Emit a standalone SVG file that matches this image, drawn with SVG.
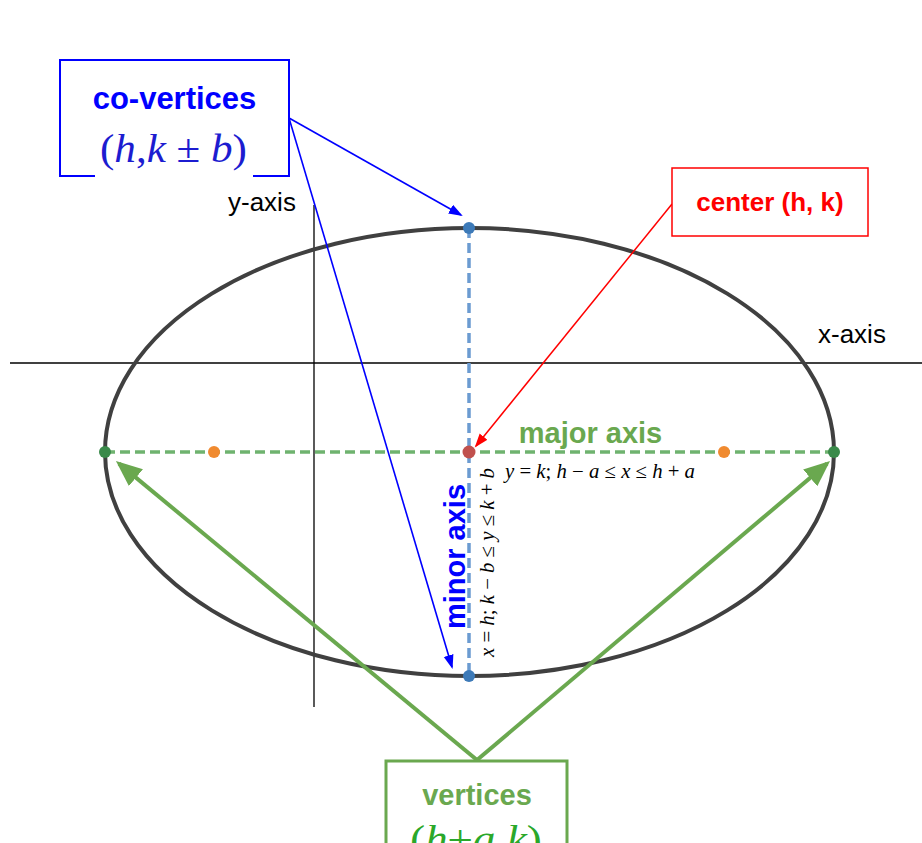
<svg xmlns="http://www.w3.org/2000/svg" width="922" height="843" viewBox="0 0 922 843">
<style>
.lbl{font-family:"Liberation Sans",Arial,sans-serif;font-weight:bold;text-anchor:middle}
.ax{font-family:"Liberation Sans",Arial,sans-serif;font-size:26px;fill:#000}
.math{font-family:"Liberation Serif","Times New Roman",serif}
.it{font-style:italic}
.dot{stroke:none}
</style>
<defs>
<marker id="ab" markerUnits="userSpaceOnUse" markerWidth="16" markerHeight="12" refX="12" refY="5" orient="auto"><path d="M0,0 L14,5 L0,10 z" fill="#0000ff"/></marker>
<marker id="ar" markerUnits="userSpaceOnUse" markerWidth="16" markerHeight="12" refX="12" refY="5" orient="auto"><path d="M0,0 L14,5 L0,10 z" fill="#ff0000"/></marker>
<marker id="ag" markerUnits="userSpaceOnUse" markerWidth="30" markerHeight="24" refX="22" refY="11" orient="auto"><path d="M0,0 L26,11 L0,22 z" fill="#6aa84f"/></marker>
</defs>
<rect width="922" height="843" fill="#fff"/>
<g id="axes">
<line x1="10" y1="363" x2="922" y2="363" stroke="#000" stroke-width="1.3"/>
<line x1="314" y1="205" x2="314" y2="707" stroke="#000" stroke-width="1.3"/>
<text class="ax" x="228" y="211">y-axis</text>
<text class="ax" x="818" y="343">x-axis</text>
</g>
<g id="ellipse">
<ellipse cx="469.5" cy="452" rx="364.5" ry="224" fill="none" stroke="#404040" stroke-width="4"/>
</g>
<g id="axes-lines">
<line x1="105" y1="452" x2="834" y2="452" stroke="#6fb36f" stroke-width="3.5" stroke-dasharray="10,5"/>
<line x1="469" y1="228" x2="469" y2="676" stroke="#6b9bd1" stroke-width="3.5" stroke-dasharray="10,5"/>
</g>
<g id="points">
<circle class="dot" cx="105" cy="452" r="6" fill="#3a8a4a"/>
<circle class="dot" cx="834" cy="452" r="6" fill="#3a8a4a"/>
<circle class="dot" cx="214" cy="452" r="6" fill="#f08a30"/>
<circle class="dot" cx="724" cy="452" r="6" fill="#f08a30"/>
<circle class="dot" cx="469" cy="452" r="6.5" fill="#c0504d"/>
<circle class="dot" cx="469" cy="228" r="6" fill="#3d7ab8"/>
<circle class="dot" cx="469" cy="676" r="6" fill="#3d7ab8"/>
</g>
<g id="major-axis-label">
<text class="lbl" x="590.5" y="443" font-size="29" fill="#6aa84f">major axis</text>
<text class="math" x="505" y="478" font-size="20" textLength="190" lengthAdjust="spacingAndGlyphs"><tspan class="it">y</tspan> = <tspan class="it">k</tspan>;  <tspan class="it">h</tspan> − <tspan class="it">a</tspan> ≤ <tspan class="it">x</tspan> ≤ <tspan class="it">h</tspan> + <tspan class="it">a</tspan></text>
</g>
<g id="minor-axis-label">
<text class="lbl" transform="translate(465,556.5) rotate(-90)" x="0" y="0" font-size="29" fill="#0000ff">minor axis</text>
<text class="math" transform="translate(494,657) rotate(-90)" x="0" y="0" font-size="20" textLength="189" lengthAdjust="spacingAndGlyphs"><tspan class="it">x</tspan> = <tspan class="it">h</tspan>;  <tspan class="it">k</tspan> − <tspan class="it">b</tspan> ≤ <tspan class="it">y</tspan> ≤ <tspan class="it">k</tspan> + <tspan class="it">b</tspan></text>
</g>
<g id="connectors">
<line x1="289" y1="118" x2="461" y2="215" stroke="#0000ff" stroke-width="1.6" marker-end="url(#ab)"/>
<line x1="289" y1="118" x2="452" y2="667" stroke="#0000ff" stroke-width="1.6" marker-end="url(#ab)"/>
<line x1="672" y1="204" x2="476" y2="446" stroke="#ff0000" stroke-width="1.5" marker-end="url(#ar)"/>
<line x1="477" y1="760" x2="119" y2="463.6" stroke="#6aa84f" stroke-width="4" marker-end="url(#ag)"/>
<line x1="477" y1="760" x2="827" y2="463.6" stroke="#6aa84f" stroke-width="4" marker-end="url(#ag)"/>
</g>
<g id="co-vertices">
<rect x="60" y="60" width="229" height="116" fill="#fff" stroke="#0000ff" stroke-width="2"/>
<rect x="95" y="122" width="158" height="58" fill="#fff"/>
<text class="lbl" x="174.5" y="109" font-size="31" fill="#0000ff">co-vertices</text>
<text class="math" x="100" y="162" font-size="41" fill="#1c1cd0" textLength="147" lengthAdjust="spacingAndGlyphs">(<tspan class="it">h</tspan>,<tspan class="it">k</tspan> ± <tspan class="it">b</tspan>)</text>
</g>
<g id="center">
<rect x="672" y="168" width="196" height="68" fill="#fff" stroke="#ff0000" stroke-width="1.5"/>
<text class="lbl" x="770" y="211" font-size="26" fill="#ff0000">center (h, k)</text>
</g>
<g id="vertices">
<rect x="386" y="761" width="181" height="100" fill="#fff" stroke="#6aa84f" stroke-width="3"/>
<text class="lbl" x="477" y="805" font-size="29" fill="#6aa84f">vertices</text>
<text class="math" x="410" y="853" font-size="40" fill="#2aa82a" textLength="132" lengthAdjust="spacingAndGlyphs">(<tspan class="it">h</tspan>±<tspan class="it">a</tspan>,<tspan class="it">k</tspan>)</text>
</g>
</svg>
